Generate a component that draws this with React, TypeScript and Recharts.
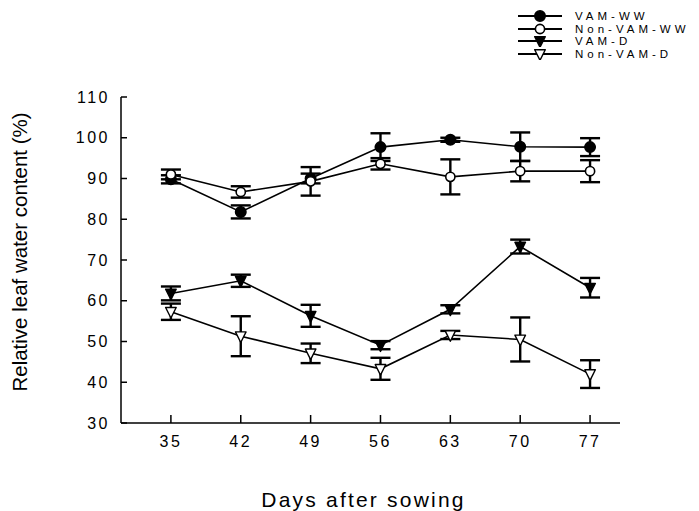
import { LineChart, Line, XAxis, YAxis, ErrorBar, Label } from "recharts";

const days = [35, 42, 49, 56, 63, 70, 77];
const vamWW = [89.8, 81.8, 90, 97.7, 99.5, 97.8, 97.7];
const vamWWErr = [1, 1.6, 1.2, 3.4, 0.5, 3.5, 2.2];
const nonVamWW = [91, 86.7, 89.3, 93.6, 90.4, 91.8, 91.8];
const nonVamWWErr = [1.2, 1.4, 3.5, 1.4, 4.3, 2.5, 2.7];
const vamD = [61.8, 64.9, 56.3, 49.1, 57.9, 73.3, 63.2];
const vamDErr = [1.7, 1.5, 2.7, 1, 1, 1.7, 2.4];
const nonVamD = [57.3, 51.3, 47.1, 43.3, 51.6, 50.5, 42];
const nonVamDErr = [2, 4.9, 2.4, 2.7, 1, 5.4, 3.4];

const yTicks = [30, 40, 50, 60, 70, 80, 90, 100, 110];

const series = [
  { key: "vamWW", name: "VAM-WW", shape: "circle", filled: true },
  { key: "nonVamWW", name: "Non-VAM-WW", shape: "circle", filled: false },
  { key: "vamD", name: "VAM-D", shape: "tri", filled: true },
  { key: "nonVamD", name: "Non-VAM-D", shape: "tri", filled: false },
];

const data = days.map((d, i) => ({
  day: d,
  vamWW: vamWW[i],
  vamWWErr: vamWWErr[i],
  nonVamWW: nonVamWW[i],
  nonVamWWErr: nonVamWWErr[i],
  vamD: vamD[i],
  vamDErr: vamDErr[i],
  nonVamD: nonVamD[i],
  nonVamDErr: nonVamDErr[i],
}));

const FONT = "'Liberation Sans', Arial, sans-serif";

function Marker({ cx, cy, shape, filled }: any) {
  if (cx == null || cy == null) return null;
  const fill = filled ? "#000" : "#fff";
  if (shape === "circle") {
    return <circle cx={cx} cy={cy} r={filled ? 5.2 : 4.6} fill={fill} stroke="#000" strokeWidth={1.6} />;
  }
  const s = 5.3;
  return (
    <polygon
      points={`${cx - s},${cy - s + 1} ${cx + s},${cy - s + 1} ${cx},${cy + s + 1}`}
      fill={fill}
      stroke="#000"
      strokeWidth={1.4}
      strokeLinejoin="round"
    />
  );
}

function LegendBox() {
  return (
    <div style={{ position: "absolute", left: 512, top: 10, fontFamily: FONT }}>
      {series.map((s) => (
        <div key={s.key} style={{ display: "flex", alignItems: "center", height: 12.6 }}>
          <svg width={56} height={12}>
            <line x1={6} y1={6} x2={50} y2={6} stroke="#000" strokeWidth={1.8} />
            <Marker cx={28} cy={6} shape={s.shape} filled={s.filled} />
          </svg>
          <span style={{ fontSize: 11.5, letterSpacing: 4, marginLeft: 7, lineHeight: "12.6px", color: "#000" }}>
            {s.name}
          </span>
        </div>
      ))}
    </div>
  );
}

export default function App() {
  return (
    <div style={{ position: "absolute", left: 0, top: 0, width: 699, height: 511, background: "#fff" }}>
      <LineChart width={699} height={511} data={data} margin={{ top: 97, right: 79, bottom: 0, left: 0 }}>
        <XAxis
          dataKey="day"
          type="number"
          domain={[30, 80]}
          ticks={days}
          height={88}
          stroke="#000"
          strokeWidth={1.5}
          tickSize={-8}
          tickMargin={21}
          tick={{ fill: "#000", fontSize: 16, fontFamily: FONT, letterSpacing: 2.5 }}
        >
          <Label
            value="Days after sowing"
            position="insideBottom"
            offset={4}
            dx={-7}
            style={{ fill: "#000", fontSize: 21, fontFamily: FONT, letterSpacing: 2.2 }}
          />
        </XAxis>
        <YAxis
          type="number"
          domain={[30, 110]}
          ticks={yTicks}
          width={121}
          stroke="#000"
          strokeWidth={1.5}
          tickSize={-6}
          tickMargin={17}
          tick={{ fill: "#000", fontSize: 16, fontFamily: FONT, letterSpacing: 2.5 }}
        >
          <Label
            value="Relative leaf water content (%)"
            angle={-90}
            position="insideLeft"
            offset={20}
            dy={-8}
            style={{ fill: "#000", fontSize: 20.5, fontFamily: FONT, textAnchor: "middle" }}
          />
        </YAxis>
        {series.map((s) => (
          <Line
            key={s.key}
            dataKey={s.key}
            name={s.name}
            stroke="#000"
            strokeWidth={1.6}
            isAnimationActive={false}
            dot={(p: any) => <Marker key={`${s.key}-${p.index}`} cx={p.cx} cy={p.cy} shape={s.shape} filled={s.filled} />}
            activeDot={false}
          >
            <ErrorBar dataKey={`${s.key}Err`} direction="y" width={10} stroke="#000" strokeWidth={2.4} />
          </Line>
        ))}
      </LineChart>
      <LegendBox />
    </div>
  );
}
